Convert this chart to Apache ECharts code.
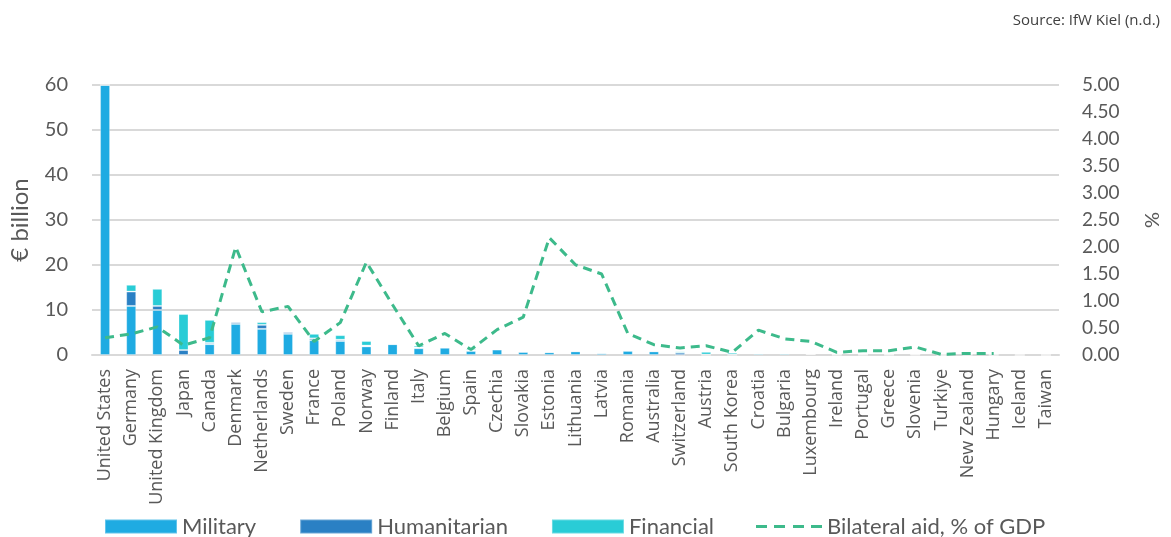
<!DOCTYPE html>
<html>
<head>
<meta charset="utf-8">
<title>Aid to Ukraine by donor</title>
<script src="https://cdn.jsdelivr.net/npm/echarts@6/dist/echarts.min.js"></script>
<style>
  html, body { margin: 0; padding: 0; background: #fff; }
  #chart { width: 1171px; height: 537px; }
</style>
</head>
<body>
<div id="chart"></div>
<script>
// Donor countries, ordered by total commitments
const countries = ['United States', 'Germany', 'United Kingdom', 'Japan', 'Canada', 'Denmark',
  'Netherlands', 'Sweden', 'France', 'Poland', 'Norway', 'Finland', 'Italy', 'Belgium', 'Spain',
  'Czechia', 'Slovakia', 'Estonia', 'Lithuania', 'Latvia', 'Romania', 'Australia', 'Switzerland',
  'Austria', 'South Korea', 'Croatia', 'Bulgaria', 'Luxembourg', 'Ireland', 'Portugal', 'Greece',
  'Slovenia', 'Turkiye', 'New Zealand', 'Hungary', 'Iceland', 'Taiwan'];

// € billion
const military = [60, 10.9, 10.0, 0, 2.4, 6.9, 5.8, 4.7, 3.3, 3.1, 1.9, 2.4, 1.5, 1.6, 0.9,
  1.2, 0.7, 0.6, 0.8, 0.4, 0.9, 0.8, 0, 0, 0, 0.3, 0.3, 0.2, 0.05, 0.05, 0.05,
  0.05, 0, 0.03, 0.02, 0, 0];
const humanitarian = [0, 3.2, 0.9, 1.1, 0.3, 0.4, 0.9, 0.4, 0.4, 0.3, 0.2, 0, 0.2, 0.2, 0.1,
  0.1, 0, 0.1, 0.1, 0, 0.2, 0.1, 0.5, 0.1, 0.1, 0, 0, 0, 0, 0, 0,
  0, 0, 0, 0, 0, 0];
const financial = [0, 1.5, 3.8, 8.0, 5.1, 0, 0.6, 0, 1.0, 1.0, 1.0, 0, 0.4, 0, 0.3,
  0, 0, 0, 0, 0, 0, 0, 0.3, 0.6, 0.4, 0, 0, 0, 0, 0, 0,
  0, 0, 0, 0, 0, 0];

// Bilateral aid as % of donor GDP
const gdpShare = [0.32, 0.39, 0.52, 0.18, 0.32, 2.0, 0.8, 0.9, 0.25, 0.6, 1.72, 0.93, 0.17,
  0.4, 0.1, 0.47, 0.7, 2.17, 1.67, 1.5, 0.4, 0.19, 0.13, 0.17, 0.05, 0.46, 0.3, 0.25,
  0.05, 0.08, 0.08, 0.15, 0.01, 0.03, 0.03, null, null];

const leftTicks = { min: 0, max: 60, step: 10 };
const rightTicks = { min: 0, max: 5, step: 0.5 };

const C_MIL = '#1fabe2';
const C_HUM = '#2a80c4';
const C_FIN = '#29ccd6';
const C_LINE = '#3dba8b';
const TXT = '#595959';
const UI_FONT = 'Lato, "Open Sans", sans-serif';
const LABEL_FONT = '"Open Sans", sans-serif';

// Four short dashes, used as the legend key of the dashed line
const DASH_ICON = 'path://M0 0H11V3H0Z M18 0H29V3H18Z M37 0H48V3H37Z M55 0H66V3H55Z';

const barStyle = (color) => ({ color: color, borderColor: 'rgba(255,255,255,0.3)', borderWidth: 1 });

const chart = echarts.init(document.getElementById('chart'), null, { renderer: 'canvas' });
chart.setOption({
  animation: false,
  backgroundColor: '#ffffff',
  textStyle: { fontFamily: UI_FONT },
  title: {
    text: 'Source: IfW Kiel (n.d.)',
    right: 6, top: 8,
    textStyle: { fontFamily: LABEL_FONT, fontSize: 15, fontWeight: 'normal', color: '#404040' }
  },
  grid: { left: 88, right: 111, top: 85, bottom: 182 },
  legend: [
    {
      data: ['Military', 'Humanitarian', 'Financial'],
      left: 104, top: 515, padding: 0,
      itemWidth: 72, itemHeight: 14, itemGap: 43,
      icon: 'rect',
      textStyle: { fontFamily: UI_FONT, fontSize: 22, color: TXT, lineHeight: 23 }
    },
    {
      data: [{ name: 'Bilateral aid, % of GDP', icon: DASH_ICON }],
      left: 756, top: 515, padding: 0,
      itemWidth: 66, itemHeight: 3,
      textStyle: { fontFamily: UI_FONT, fontSize: 22, color: TXT, lineHeight: 23 }
    }
  ],
  xAxis: {
    type: 'category',
    data: countries,
    axisLine: { lineStyle: { color: '#d9d9d9', width: 2 } },
    axisTick: { show: false },
    axisLabel: {
      rotate: 90, interval: 0, margin: 14,
      fontFamily: LABEL_FONT, fontSize: 18, color: TXT
    }
  },
  yAxis: [
    {
      type: 'value',
      min: leftTicks.min, max: leftTicks.max, interval: leftTicks.step,
      name: '€ billion', nameLocation: 'middle', nameGap: 60, nameRotate: 90,
      nameTextStyle: { fontFamily: UI_FONT, fontSize: 24, color: TXT },
      axisLine: { show: false }, axisTick: { show: false },
      axisLabel: { margin: 24, fontFamily: UI_FONT, fontSize: 20, color: TXT },
      splitLine: { lineStyle: { color: '#d9d9d9', width: 2 } }
    },
    {
      type: 'value',
      min: rightTicks.min, max: rightTicks.max, interval: rightTicks.step,
      name: '%', nameLocation: 'middle', nameGap: 84, nameRotate: 90,
      nameTextStyle: { fontFamily: UI_FONT, fontSize: 20, color: TXT },
      axisLine: { show: false }, axisTick: { show: false },
      axisLabel: {
        margin: 23, fontFamily: UI_FONT, fontSize: 19, color: TXT,
        formatter: (v) => v.toFixed(2)
      },
      splitLine: { show: false }
    }
  ],
  series: [
    { name: 'Military', type: 'bar', stack: 'aid', barWidth: 10, data: military, itemStyle: barStyle(C_MIL) },
    { name: 'Humanitarian', type: 'bar', stack: 'aid', barWidth: 10, data: humanitarian, itemStyle: barStyle(C_HUM) },
    { name: 'Financial', type: 'bar', stack: 'aid', barWidth: 10, data: financial, itemStyle: barStyle(C_FIN) },
    {
      name: 'Bilateral aid, % of GDP', type: 'line', yAxisIndex: 1,
      data: gdpShare, showSymbol: false, symbol: 'none', connectNulls: false,
      lineStyle: { color: C_LINE, width: 3, type: [9, 6] },
      itemStyle: { color: C_LINE },
      z: 5
    }
  ]
});
</script>
</body>
</html>
